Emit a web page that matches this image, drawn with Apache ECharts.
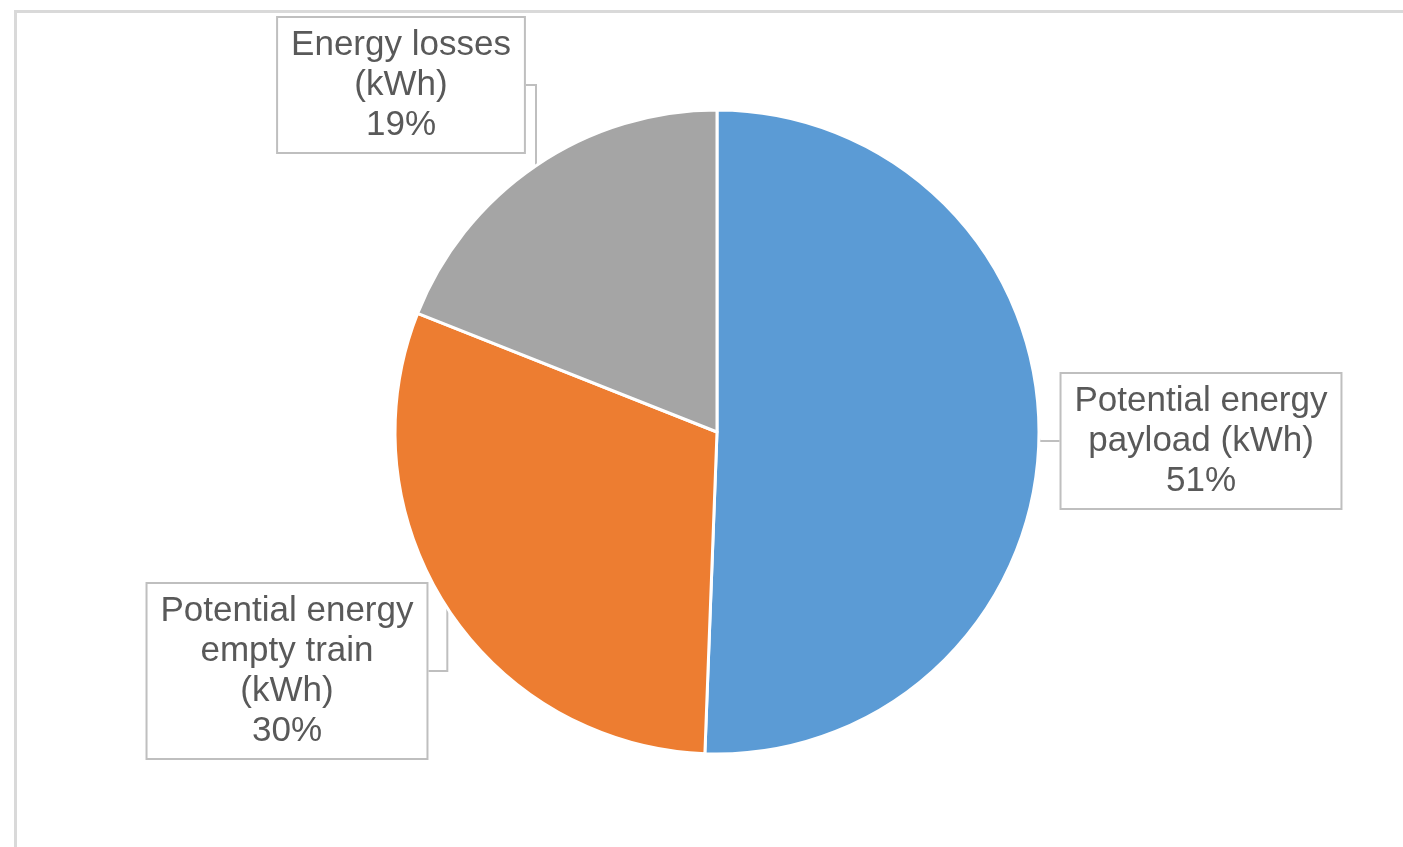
<!DOCTYPE html>
<html>
<head>
<meta charset="utf-8">
<script src="https://cdn.jsdelivr.net/npm/echarts@6/dist/echarts.min.js"></script>
<style>
  html, body { margin: 0; padding: 0; background: #ffffff; }
  #frame { position: absolute; left: 14px; top: 10px; width: 1500px; height: 900px;
           border-top: 3px solid #d9d9d9; border-left: 3px solid #d9d9d9; }
  #chart { position: absolute; left: 0; top: 0; width: 1403px; height: 847px; }
</style>
</head>
<body>
<div id="frame"></div>
<div id="chart"></div>
<script>
// Data
const categories = [
  'Potential energy\npayload (kWh)',
  'Potential energy\nempty train\n(kWh)',
  'Energy losses\n(kWh)'
];
const values = [50.6, 30.4, 19.0];
const colors = ['#5B9BD5', '#ED7D31', '#A5A5A5'];
// label box centres (layout only)
const labelCenters = [[1201, 441], [287, 671], [401, 85]];

const chart = echarts.init(document.getElementById('chart'), null, { renderer: 'canvas' });

const option = {
  backgroundColor: 'transparent',
  animation: false,
  series: [{
    type: 'pie',
    center: [717, 432],
    radius: 322,
    startAngle: 90,
    clockwise: true,
    avoidLabelOverlap: false,
    data: categories.map((c, i) => ({
      name: c,
      value: values[i],
      itemStyle: { color: colors[i] }
    })),
    itemStyle: { borderColor: '#ffffff', borderWidth: 3 },
    label: {
      show: true,
      position: 'outside',
      formatter: p => p.name + '\n' + Math.round(p.percent) + '%',
      fontFamily: '"Liberation Sans", Arial, sans-serif',
      fontSize: 35,
      lineHeight: 40,
      color: '#595959',
      align: 'center',
      backgroundColor: '#ffffff',
      borderColor: '#bfbfbf',
      borderWidth: 2,
      padding: [7, 13]
    },
    labelLine: {
      show: true,
      length: 20,
      length2: 20,
      lineStyle: { color: '#bfbfbf', width: 2 }
    },
    labelLayout: function (params) {
      const c = labelCenters[params.dataIndex];
      return { x: c[0], y: c[1], align: 'center', verticalAlign: 'middle' };
    },
    emphasis: { disabled: true }
  }]
};
chart.setOption(option);
</script>
</body>
</html>
